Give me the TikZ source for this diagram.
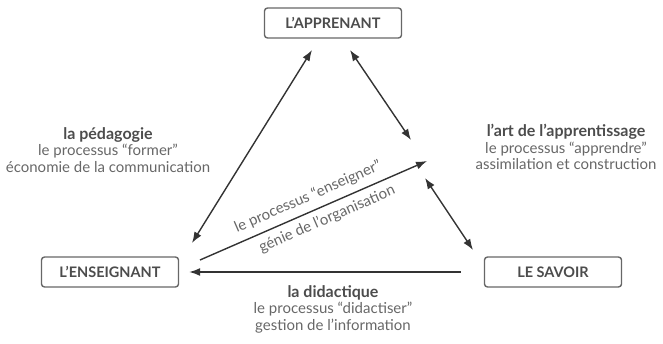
\documentclass[tikz,border=0pt]{standalone}
\usepackage{fontspec}
\setmainfont{Lato}
\usetikzlibrary{arrows.meta}
\usetikzlibrary{positioning}
\definecolor{mgray}{rgb}{0.3, 0.3, 0.3}
\definecolor{mline}{rgb}{0.2, 0.2, 0.2}
\tikzset{arr/.style = {draw=mline, line width=1.4, >={Latex[length=11pt, width=8pt]}}}
\tikzset{box/.style = {draw=mgray!85, line width=1.4, rounded corners=3, fill=white,
                       minimum width=137pt, minimum height=30pt, inner xsep=9pt,
                       text=mgray, font=\fontsize{14.5}{16}\selectfont\bfseries}}
\tikzset{lbl/.style = {align=center, text=mgray!85, font=\fontsize{15}{16.5}\selectfont}}
\newcommand{\head}[1]{{\fontsize{16}{16.5}\selectfont\bfseries\color{mgray} #1}}

\begin{document}
\begin{tikzpicture}[x=1pt, y=-1pt]
    \path [use as bounding box, clip] (0, 0) rectangle (663, 344);

    \node [box] (apprenant) at (333, 23) {L'APPRENANT};
    \node [box] (enseignant) at (110, 272) {L'ENSEIGNANT};
    \node [box] (savoir) at (553, 272) {LE SAVOIR};

    \coordinate (app-l) at (312, 50);
    \coordinate (ens-t) at (192, 243);
    \coordinate (app-r) at (350, 50);
    \coordinate (mid-r) at (411, 140);
    \coordinate (mid-s) at (425, 178);
    \coordinate (sav-t) at (473, 250);
    \coordinate (ens-r) at (200, 260);
    \coordinate (mid-t) at (427, 161);

    \draw [arr, <->] (app-l) -- (ens-t);
    \draw [arr, <->] (app-r) -- (mid-r);
    \draw [arr, <->] (mid-s) -- (sav-t);
    \draw [arr, ->] (ens-r) -- (mid-t);
    \draw [arr, ->, shorten <=23pt] (savoir.west) -- ([xshift=10pt]enseignant.east);

    \node [lbl, rotate=23.6] (enseigner) at (308, 197) {le processus ``enseigner''};
    \node [lbl, rotate=23.6] (organisation) at (327, 219) {génie de l'organisation};

    \node [lbl] (pedagogie) at (108, 150) {\head{la pédagogie}\\
      le processus ``former''\\ économie de la communication};
    \node [lbl] (apprentissage) at (566, 147) {\head{l'art de l'apprentissage}\\
      le processus ``apprendre''\\ assimilation et construction};
    \node [lbl] (didactique) at (333, 309) {\head{la didactique}\\
      le processus ``didactiser''\\ gestion de l'information};
  \end{tikzpicture}
\end{document}
